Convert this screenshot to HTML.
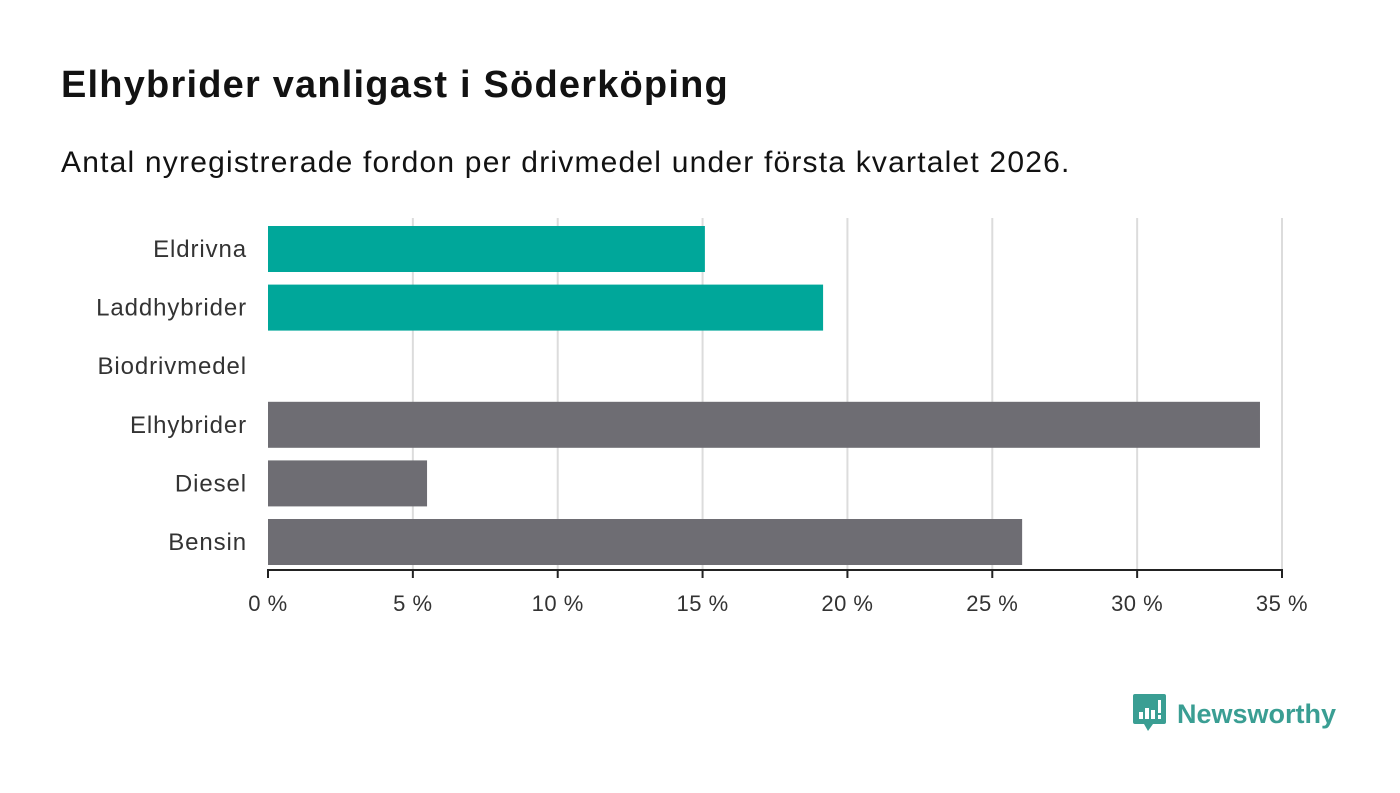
<!DOCTYPE html>
<html><head><meta charset="utf-8"><style>
body{margin:0;width:1400px;height:793px;background:#fff;font-family:"Liberation Sans",sans-serif;overflow:hidden;position:relative}
h1{position:absolute;left:61px;top:64px;margin:0;font-size:38px;letter-spacing:1.2px;font-weight:bold;color:#121212}
.sub{position:absolute;left:61px;top:146px;font-size:30px;letter-spacing:1.2px;color:#121212}
#c{position:absolute;left:0;top:0}
</style></head><body>
<h1>Elhybrider vanligast i Söderköping</h1>
<div class="sub">Antal nyregistrerade fordon per drivmedel under första kvartalet 2026.</div>
<svg id="c" width="1400" height="793"></svg>
<div style="position:absolute;left:1133px;top:694px;display:flex;align-items:center">
<svg width="34" height="40"><path d="M2 0h29a2 2 0 0 1 2 2v26a2 2 0 0 1-2 2H20l-5 7-4-7H2a2 2 0 0 1-2-2V2a2 2 0 0 1 2-2z" fill="#3a9e93"/><rect x="6" y="18" width="4" height="7" fill="#fff"/><rect x="12" y="14" width="4" height="11" fill="#fff"/><rect x="18" y="16" width="4" height="9" fill="#fff"/><rect x="25" y="6" width="3" height="13" fill="#fff"/><rect x="25" y="21" width="3" height="4" fill="#fff"/></svg>
<span style="font-size:27px;font-weight:bold;color:#3a9e93;margin-left:10px">Newsworthy</span></div>
<script>
const categories=["Eldrivna","Laddhybrider","Biodrivmedel","Elhybrider","Diesel","Bensin"];
const values=[15.08,19.16,0,34.24,5.49,26.03];
const colors=["#00a79a","#00a79a","#00a79a","#6e6d73","#6e6d73","#6e6d73"];
const ticks=[0,5,10,15,20,25,30,35];
const tickLabels=["0 %","5 %","10 %","15 %","20 %","25 %","30 %","35 %"];
const svg=document.getElementById('c');const NS="http://www.w3.org/2000/svg";
const x0=268,x1=1282,plotTop=218,plotBottom=570,step=58.6;
const x=v=>x0+(v/35)*(x1-x0);
const y=i=>226+i*step;
function mk(t,a){const e=document.createElementNS(NS,t);for(const k in a)e.setAttribute(k,a[k]);svg.appendChild(e);return e;}
ticks.forEach((t,i)=>{
 if(i>0){const g=mk('line',{x1:x(t),x2:x(t),y1:plotTop,y2:plotBottom,stroke:'#dcdcdc','stroke-width':2});
 
 }
 const tk=mk('line',{x1:x(t),x2:x(t),y1:plotBottom,y2:plotBottom+8,stroke:'#222','stroke-width':2});
 
 
 const l=mk('text',{x:x(t),y:611,'text-anchor':'middle','font-size':22,'letter-spacing':0.5,fill:'#333','font-family':'Liberation Sans'});l.textContent=tickLabels[i];
 
 
});
categories.forEach((c,i)=>{
 const r=mk('rect',{x:x0,y:y(i),width:x(values[i])-x0,height:46,fill:colors[i]});
 
 
 const l=mk('text',{x:247,y:y(i)+31,'text-anchor':'end','font-size':24,'letter-spacing':0.9,fill:'#333','font-family':'Liberation Sans'});l.textContent=c;
 
 
});
const ax=mk('line',{x1:x0-1,x2:x1+1,y1:plotBottom,y2:plotBottom,stroke:'#222','stroke-width':2});


</script>
</body></html>
